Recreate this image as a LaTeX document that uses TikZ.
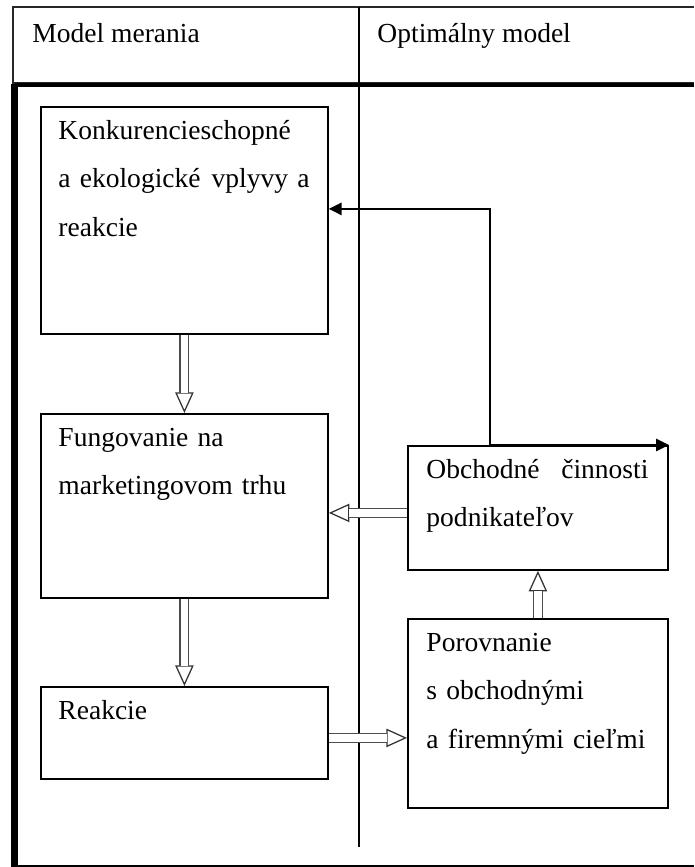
\documentclass[tikz,border=0pt]{standalone}
\usepackage{fontspec}
\setmainfont{Liberation Serif}
\usetikzlibrary{arrows.meta}
\newcommand\pxu{0.436pt}
\newcommand\spread{\hskip 0pt plus 1fill\relax}
\tikzset{
  box/.style={draw, line width=.8pt, anchor=north west, inner sep=0pt},
  txt/.style={anchor=north west, inner sep=0pt, align=left,
    font=\fontsize{12}{21.1}\selectfont,
    execute at begin node={\rule{0pt}{14.4pt}}},
  head/.style={anchor=base west, inner sep=0pt, font=\fontsize{12}{14}\selectfont},
  hollow/.style={
    postaction={draw, black!80, line width=.55pt,
      -{Triangle[open, length=9pt, width=8pt, fill=white]}},
    postaction={draw, black!70, line width=.55pt, double=white,
      double distance=3.3pt, shorten >=8.6pt}},
  tip/.style={line width=.8pt, -{Triangle[length=5.6pt, width=5.4pt]}}
}
\begin{document}
\begin{tikzpicture}[x=\pxu, y=-\pxu]
  \useasboundingbox (0,0) rectangle (694,867);
  % table
  \draw[line width=1pt, black!85] (694,7) -- (13,7) -- (13,83) -- (694,83);
  \draw[line width=.7pt] (359,7) -- (359,83);
  \draw[line width=1.8pt] (694,85) -- (15,85);
  \draw[line width=3.1pt] (14.5,84) -- (14.5,866);
  \draw[line width=.9pt] (11,866) -- (694,866);
  \draw[line width=.7pt] (359,86) -- (359,847);
  \node[head] (modmer) at (32,43) {Model merania};
  \node[head] (optmod) at (377,43) {Optimálny model};

  % boxes
  \node[box, minimum width=287*\pxu, minimum height=227*\pxu] (konk) at (40,106) {};
  \node[box, minimum width=287*\pxu, minimum height=184*\pxu] (fung) at (40,413) {};
  \node[box, minimum width=287*\pxu, minimum height=92*\pxu] (reak) at (40,686) {};
  \node[box, minimum width=260*\pxu, minimum height=124*\pxu] (obch) at (407,445) {};
  \node[box, minimum width=260*\pxu, minimum height=189*\pxu] (por) at (407,618) {};

  \node[txt, text width=251*\pxu] (konktxt) at ([xshift=18*\pxu]konk.north west)
    {Konkurencieschopné\\a ekologické\spread{} vplyvy a\\reakcie};
  \node[txt, text width=251*\pxu] (fungtxt) at ([xshift=18*\pxu]fung.north west)
    {Fungovanie na\\marketingovom trhu};
  \node[txt, text width=251*\pxu] (reaktxt) at ([xshift=18*\pxu]reak.north west)
    {Reakcie};
  \node[txt, text width=222*\pxu] (obchtxt) at ([xshift=19*\pxu]obch.north west)
    {Obchodné\spread{} činnosti\\podnikateľov};
  \node[txt, text width=222*\pxu] (portxt) at ([xshift=19*\pxu]por.north west)
    {Porovnanie\\s obchodnými\\a firemnými cieľmi};

  % connectors
  \foreach \a/\b in {konk.south/fung.north, fung.south/reak.north, por.north/obch.south}
    \path[hollow] (\a) -- (\b);
  \path[hollow] ([yshift=-5*\pxu]obch.west) -- ([yshift=-5*\pxu]obch.west -| fung.east);
  \path[hollow] ([yshift=-5*\pxu]reak.east) -- ([yshift=-5*\pxu]reak.east -| por.west);
  \coordinate (split) at ([xshift=83*\pxu]obch.north west);
  \draw[tip] (split) |- ([yshift=11.5*\pxu]konk.east);
  \draw[tip] (split) -- (obch.north east);
\end{tikzpicture}
\end{document}
